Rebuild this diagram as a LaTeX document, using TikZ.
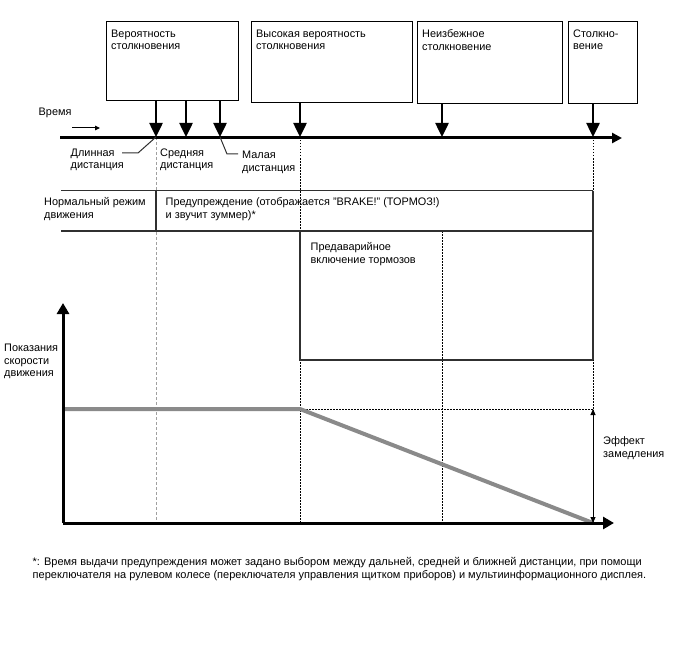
\documentclass[tikz,border=0pt]{standalone}
\usepackage{fontspec}
\setmainfont{Liberation Sans}
\usetikzlibrary{arrows.meta,positioning}
\definecolor{ink}{HTML}{000000}
\definecolor{rulegray}{HTML}{303030}
\definecolor{speedgray}{HTML}{8A8A8A}
\definecolor{dashgray}{HTML}{A0A0A0}
\newcommand\txtsize{\fontsize{10.9}{12.5}\selectfont}
\newcommand\notesize{\fontsize{11}{12.3}\selectfont}
\tikzset{
  phasebox/.style={draw=ink,line width=1.4pt,anchor=north west,inner sep=0pt},
  boxtext/.style={anchor=north west,align=left,inner xsep=5pt,inner ysep=8.5pt,font=\txtsize},
  plaintext/.style={anchor=west,align=left,inner sep=0pt,font=\txtsize},
  hitarr/.style={-{Triangle[length=14pt,width=13pt]},line width=2.5pt},
  axisarr/.style={-{Triangle[length=10pt,width=10pt]},line width=3pt},
  leader/.style={line width=1pt,color=rulegray},
  rowline/.style={line width=1.2pt,color=rulegray},
  grayguide/.style={line width=1pt,color=dashgray,dash pattern=on 3pt off 2pt},
  dotguide/.style={line width=1pt,color=ink,dash pattern=on 1.5pt off 1.5pt},
  speedline/.style={line width=4pt,color=speedgray},
  effarr/.style={{Triangle[length=6pt,width=5pt]}-{Triangle[length=6pt,width=5pt]},line width=1pt}
}

\begin{document}
\begin{tikzpicture}[x=1pt,y=-1pt]
  \useasboundingbox (0,0) rectangle (688,658);

  % Points on the time axis
  \coordinate (tstart) at (60,138);
  \coordinate (tend) at (622,138);
  \coordinate (m1) at (156,137);
  \coordinate (m2) at (186,137);
  \coordinate (m3) at (220,137);
  \coordinate (m4) at (300,137);
  \coordinate (m5) at (442,137);
  \coordinate (m6) at (593,137);

  % Speed chart frame
  \coordinate (v0) at (63,523);
  \coordinate (vtop) at (63,303);
  \coordinate (vend) at (614,523);
  \coordinate (s0) at (63,409);
  \coordinate (s1) at (300,409);

  % Guide lines
  \draw[grayguide] (m1) -- (m1 |- v0);
  \draw[dotguide] (m4) -- (m4 |- v0);
  \draw[dotguide] (442,231) -- (m5 |- v0);
  \draw[dotguide] (m6) -- (m6 |- v0);

  % Phase boxes
  \node[phasebox,minimum width=132pt,minimum height=79pt,
        label={[boxtext]north west:Вероятность\\столкновения}] (p1) at (106,21) {};
  \node[phasebox,minimum width=161pt,minimum height=81pt,
        label={[boxtext]north west:Высокая вероятность\\столкновения}] (p2) at (251,21) {};
  \node[phasebox,minimum width=145pt,minimum height=82pt,
        label={[boxtext]north west:Неизбежное\\столкновение}] (p3) at (417,21) {};
  \node[phasebox,minimum width=69pt,minimum height=82pt,
        label={[boxtext]north west:Столкно-\\вение}] (p4) at (568,21) {};

  % Time axis and labels
  \node[plaintext] (time) at (38.5,113) {Время};
  \coordinate (tarrA) at (72,128);
  \coordinate (tarrB) at (100,128);
  \draw[-{Triangle[length=5pt,width=4.5pt]},line width=1pt] (tarrA) -- (tarrB);
  \draw[axisarr] (tstart) -- (tend);

  \node[plaintext] (longd) at (70.5,160) {Длинная\\дистанция};
  \node[plaintext] (midd) at (160,160) {Средняя\\дистанция};
  \node[plaintext] (shortd) at (242,162.5) {Малая\\дистанция};
  \draw[leader] (122,153) -- (138,153) -- (m1);
  \draw[leader] (m3) -- (227,154) -- (238,154);

  % Arrows from boxes to the axis
  \draw[hitarr] (p1.south -| m1) -- (m1);
  \draw[hitarr] (p1.south -| m2) -- (m2);
  \draw[hitarr] (p1.south -| m3) -- (m3);
  \draw[hitarr] (p2.south -| m4) -- (m4);
  \draw[hitarr] (p3.south -| m5) -- (m5);
  \draw[hitarr] (p4.south -| m6) -- (m6);

  % Mode rows
  \draw[rowline] (61,190.5) -- (593,190.5);
  \draw[rowline] (61,231) -- (593,231);
  \draw[rowline] (156,190.5) -- (156,231);
  \draw[rowline] (593,190.5) -- (593,360);
  \draw[rowline] (300,231) -- (300,360) -- (593,360);
  \node[plaintext] (normal) at (44,209) {Нормальный режим\\движения};
  \node[plaintext] (warn) at (165.5,209) {Предупреждение (отображается "BRAKE!" (ТОРМОЗ!)\\и звучит зуммер)*};
  \node[plaintext] (prebrake) at (310.5,254) {Предаварийное\\включение тормозов};

  % Speed chart
  \draw[dotguide] (s1) -- (s1 -| m6);
  \draw[speedline] (s0) -- (s1) -- (m6 |- v0);
  \draw[axisarr,-{Triangle[length=11pt,width=12pt]}] (v0) -- (vtop);
  \draw[axisarr,-{Triangle[length=11pt,width=12pt]}] (v0) -- (vend);
  \draw[effarr] (s1 -| m6) -- (m6 |- v0);
  \node[plaintext] (speed) at (4,361.5) {Показания\\скорости\\движения};
  \node[plaintext] (decel) at (603,448) {Эффект\\замедления};

  % Footnote
  \node[plaintext,font=\notesize] (note) at (32.5,569) {*: Время выдачи предупреждения может задано выбором между дальней, средней и ближней дистанции, при помощи\\переключателя на рулевом колесе (переключателя управления щитком приборов) и мультиинформационного дисплея.};
\end{tikzpicture}
\end{document}
